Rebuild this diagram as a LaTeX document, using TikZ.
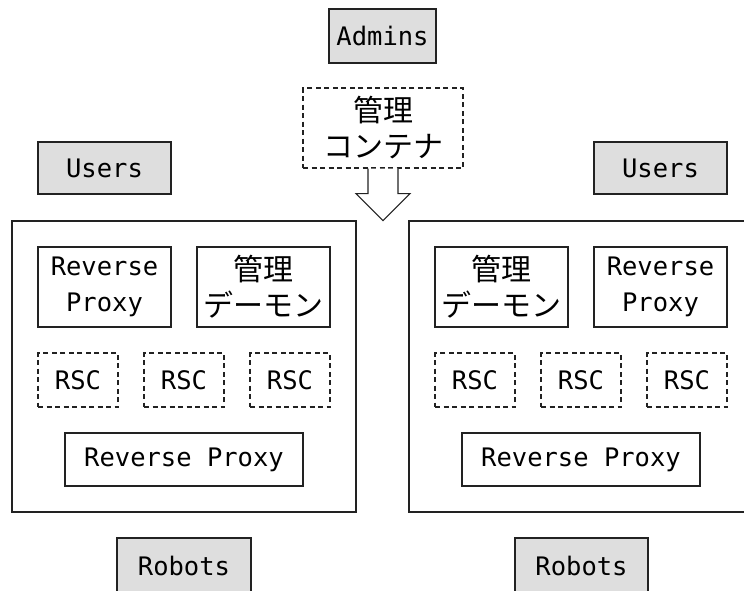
\documentclass[tikz,border=0pt]{standalone}
\usepackage{fontspec}
\setmonofont{DejaVu Sans Mono}
\newfontfamily\cjk{Noto Sans CJK JP}
\usetikzlibrary{calc}
\definecolor{boxgray}{HTML}{DEDEDE}
\definecolor{linecol}{HTML}{222222}
\begin{document}
\begin{tikzpicture}[x=1pt,y=-1pt,
  base/.style={draw=linecol,line width=1.2pt,inner sep=0pt,align=center,
    font=\ttfamily\fontsize{25.5}{36}\selectfont},
  jp/.style={font=\cjk\fontsize{30}{36}\selectfont},
  actor/.style={base,fill=boxgray},
  plainbox/.style={base,fill=white},
  dashbox/.style={base,fill=white,dash pattern=on 5pt off 3.5pt},
  container/.style={draw=linecol,line width=1.2pt,inner sep=0pt}]
\useasboundingbox (0,0) rectangle (744,590);
\fill[white] (0,0) rectangle (744,590);
\clip (0,0) rectangle (744,590);
% top
\node[actor,minimum width=107pt,minimum height=54pt] (admins) at (382.5,36) {Admins};
\node[dashbox,jp,minimum width=160pt,minimum height=80pt] (kanri) at (383,128) {管理\\コンテナ};
% users
\node[actor,minimum width=133pt,minimum height=52pt] (usersL) at (104.5,168) {Users};
\node[actor,minimum width=133pt,minimum height=52pt] (usersR) at (660.5,168) {Users};
% containers
\node[container,minimum width=344pt,minimum height=291pt] (contL) at (184,366.5) {};
\node[container,minimum width=400pt,minimum height=291pt] (contR) at (609,366.5) {};
% block arrow
\coordinate (ks) at (kanri.south);
\filldraw[draw=linecol,fill=white,line width=1.2pt,line join=miter]
  ($(ks)+(-15,0)$) -- ($(ks)+(-15,25)$) -- ($(ks)+(-27,25)$) -- ($(ks)+(0,52)$)
  -- ($(ks)+(27,25)$) -- ($(ks)+(15,25)$) -- ($(ks)+(15,0)$);
% left inner
\node[plainbox,minimum width=133pt,minimum height=80pt] (rpL1) at (104.5,287) {Reverse\\Proxy};
\node[plainbox,jp,minimum width=133pt,minimum height=80pt] (dmL) at (263.5,287) {管理\\デーモン};
\node[dashbox,minimum width=80pt,minimum height=54pt] (rscL1) at (78,380) {RSC};
\node[dashbox,minimum width=80pt,minimum height=54pt] (rscL2) at (184,380) {RSC};
\node[dashbox,minimum width=80pt,minimum height=54pt] (rscL3) at (290,380) {RSC};
\node[plainbox,minimum width=238pt,minimum height=53pt] (rpL2) at (184,459.5) {Reverse Proxy};
% right inner
\node[plainbox,jp,minimum width=133pt,minimum height=80pt] (dmR) at (501.5,287) {管理\\デーモン};
\node[plainbox,minimum width=133pt,minimum height=80pt] (rpR1) at (660.5,287) {Reverse\\Proxy};
\node[dashbox,minimum width=80pt,minimum height=54pt] (rscR1) at (475,380) {RSC};
\node[dashbox,minimum width=80pt,minimum height=54pt] (rscR2) at (581,380) {RSC};
\node[dashbox,minimum width=80pt,minimum height=54pt] (rscR3) at (687,380) {RSC};
\node[plainbox,minimum width=238pt,minimum height=53pt] (rpR2) at (581,459.5) {Reverse Proxy};
% robots
\node[actor,minimum width=134pt,minimum height=56pt] (robotsL) at (184,566) {Robots};
\node[actor,minimum width=133pt,minimum height=56pt] (robotsR) at (581.5,566) {Robots};
\end{tikzpicture}
\end{document}
